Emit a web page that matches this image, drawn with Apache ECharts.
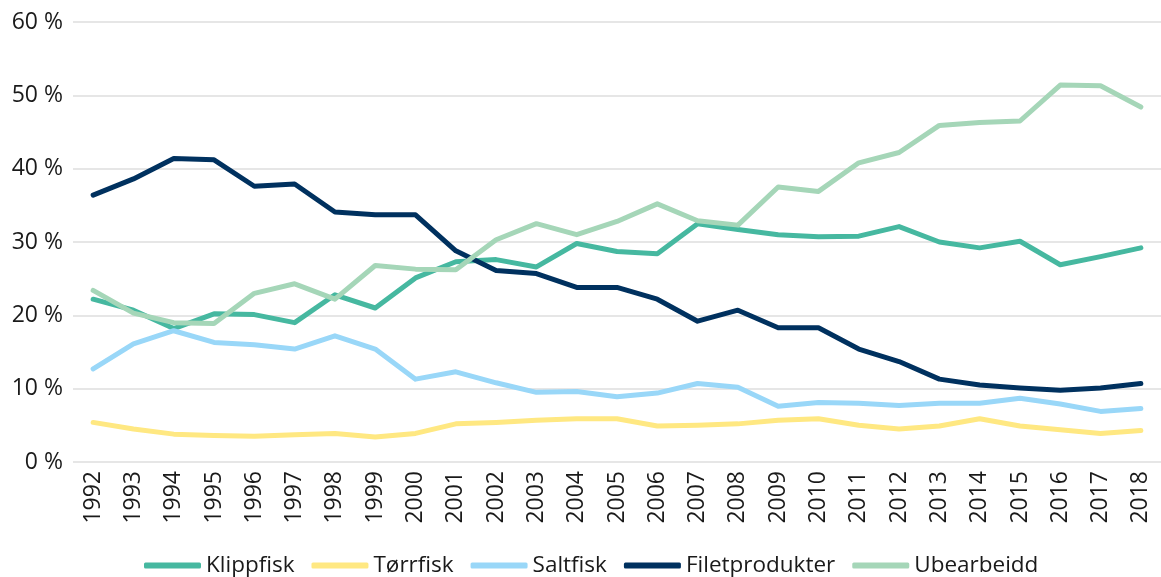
<!DOCTYPE html>
<html>
<head>
<meta charset="utf-8">
<script src="https://cdn.jsdelivr.net/npm/echarts@6/dist/echarts.min.js"></script>
<style>
  html, body { margin: 0; padding: 0; background: #fff; }
  #chart { width: 1161px; height: 577px; }
</style>
</head>
<body>
<div id="chart"></div>
<script>
// år
const years = ['1992','1993','1994','1995','1996','1997','1998','1999','2000','2001','2002','2003','2004',
    '2005','2006','2007','2008','2009','2010','2011','2012','2013','2014','2015','2016','2017','2018'];

// andeler i prosent
const klippfisk = [22.2, 20.7, 18.2, 20.2, 20.1, 19.0, 22.8, 21.0, 25.1, 27.3, 27.6, 26.6, 29.8,
    28.7, 28.4, 32.5, 31.7, 31.0, 30.7, 30.8, 32.1, 30.0, 29.2, 30.1, 26.9, 28.0, 29.2];
const torrfisk = [5.4, 4.5, 3.8, 3.6, 3.5, 3.7, 3.9, 3.4, 3.9, 5.2, 5.4, 5.7, 5.9,
    5.9, 4.9, 5.0, 5.2, 5.7, 5.9, 5.0, 4.5, 4.9, 5.9, 4.9, 4.4, 3.9, 4.3];
const saltfisk = [12.7, 16.1, 17.9, 16.3, 16.0, 15.4, 17.2, 15.4, 11.3, 12.3, 10.8, 9.5, 9.6,
    8.9, 9.4, 10.7, 10.2, 7.6, 8.1, 8.0, 7.7, 8.0, 8.0, 8.7, 7.9, 6.9, 7.3];
const filetprodukter = [36.4, 38.6, 41.4, 41.2, 37.6, 37.9, 34.1, 33.7, 33.7, 28.8, 26.1, 25.7, 23.8,
    23.8, 22.2, 19.2, 20.7, 18.3, 18.3, 15.4, 13.7, 11.3, 10.5, 10.1, 9.8, 10.1, 10.7];
const ubearbeidd = [23.4, 20.3, 19.0, 18.9, 23.0, 24.3, 22.2, 26.8, 26.3, 26.2, 30.3, 32.5, 31.0,
    32.8, 35.2, 32.9, 32.3, 37.5, 36.9, 40.8, 42.2, 45.9, 46.3, 46.5, 51.4, 51.3, 48.4];

const seriesNames = ['Klippfisk', 'Tørrfisk', 'Saltfisk', 'Filetprodukter', 'Ubearbeidd'];
const seriesData = [klippfisk, torrfisk, saltfisk, filetprodukter, ubearbeidd];
const colors = ['#46B8A0', '#FFE882', '#99D7F8', '#00315F', '#A5D6B8'];

const font = '"Open Sans", "Noto Sans", sans-serif';
const textColor = '#1a1a1a';

const chart = echarts.init(document.getElementById('chart'));
const option = {
    animation: false,
    color: colors,
    textStyle: { fontFamily: font },
    grid: {
        left: 73,
        right: -8,     // siste kategori-bånd går litt utenfor bildet
        top: 22,
        bottom: 115
    },
    legend: {
        top: 549,
        left: 139,
        icon: 'roundRect',
        itemWidth: 57,
        itemHeight: 6,
        itemGap: 17,
        data: seriesNames,
        textStyle: { fontFamily: font, fontSize: 22.5, color: textColor }
    },
    xAxis: {
        type: 'category',
        data: years,
        boundaryGap: true,
        axisLine: { show: false },
        axisTick: { show: false },
        axisLabel: {
            rotate: 90,
            interval: 0,
            margin: 9,
            fontFamily: font,
            fontSize: 23,
            color: textColor
        }
    },
    yAxis: {
        type: 'value',
        min: 0,
        max: 60,
        interval: 10,
        axisLine: { show: false },
        axisTick: { show: false },
        splitLine: { lineStyle: { color: '#DEDEDE', width: 1.5 } },
        axisLabel: {
            formatter: '{value} %',
            margin: 10,
            fontFamily: font,
            fontSize: 23,
            color: textColor
        }
    },
    series: seriesData.map((d, i) => ({
        name: seriesNames[i],
        type: 'line',
        data: d,
        showSymbol: false,
        symbol: 'none',
        lineStyle: { width: 5, color: colors[i], cap: 'round', join: 'round' },
        itemStyle: { color: colors[i] }
    }))
};
chart.setOption(option);
</script>
</body>
</html>
